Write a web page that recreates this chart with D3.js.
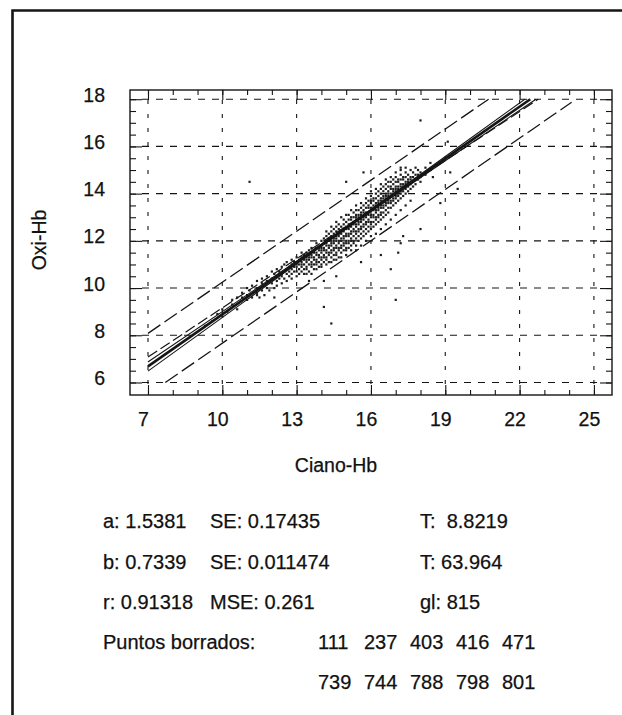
<!DOCTYPE html>
<html><head><meta charset="utf-8">
<script src="https://cdn.jsdelivr.net/npm/d3@7"></script>
<style>
body{margin:0;background:#fff}
svg{display:block}
text{font-family:"Liberation Sans",Arial,Helvetica,sans-serif;fill:#111;stroke:#111;stroke-width:0.25px}
</style>
</head><body>
<svg id="c" width="622" height="715"></svg>
<script>
// ---------- DATA ----------
const xTicks = [7,10,13,16,19,22,25];
const yTicks = [6,8,10,12,14,16,18];
const xTitle = "Ciano-Hb";
const yTitle = "Oxi-Hb";

// regression y = a + b x and bands (end points)
const regLine    = [[7,6.68],[22.43,18.0]];
const confUpper  = [[7,6.87],[11,9.71],[15.1,12.66],[19,15.57],[22.21,18.0]];
const confLower  = [[7,6.48],[11,9.51],[15.1,12.59],[19,15.39],[22.66,18.0]];
const innerDash  = [[7,7.08],[22.75,18.0]];
const predUpper  = [[7,8.08],[20.75,18.0]];
const predLower  = [[7.7,6.0],[24.1,17.87]];

// scatter: columns of Ciano-Hb value with Oxi-Hb values (tenths)
const scatterCols = [
 [9.3,[84]],[9.6,[86]],[9.8,[89]],[10.0,[88,91]],[10.2,[90]],[10.4,[93,95]],
 [10.6,[91,96]],[10.8,[96,98]],[11.0,[95,97,100]],[11.1,[99]],[11.2,[96,101]],
 [11.4,[98,100,103]],[11.5,[96]],[11.6,[99,102,104]],[11.7,[97]],[11.8,[100,103,105]],
 [11.9,[99]],[12.0,[102,104,107]],[12.1,[100,106]],[12.2,[101,103,105,108]],
 [12.3,[104,107]],[12.4,[102,105,106,109]],[12.5,[104,107,110]],[12.6,[103,106,108,111]],
 [12.7,[105,107,109]],[12.8,[104,106,108,110,112]],[12.9,[107,109,111]],
 [13.0,[105,107,109,110,111,113]],[13.1,[106,108,110,112]],[13.2,[107,109,110,111,113,115]],
 [13.3,[106,108,110,112,114]],[13.4,[108,109,111,112,113,115]],[13.5,[107,110,112,113,114,116]],
 [13.6,[106,109,110,111,113,114,115,117]],[13.7,[108,110,112,113,115,116]],
 [13.8,[108,110,111,112,114,115,117,119]],[13.9,[109,111,113,114,116,117]],
 [14.0,[109,110,112,113,115,116,117,118,120]],[14.1,[111,113,114,116,117,119,121]],
 [14.2,[110,112,113,115,116,118,119,120,122,124]],[14.3,[111,114,115,117,118,120,121,123]],
 [14.4,[111,113,115,116,118,119,120,122,124,126]],[14.5,[112,114,116,117,119,120,121,123,125]],
 [14.6,[112,114,115,117,118,120,121,122,124,126,128]],[14.7,[113,116,117,119,120,122,123,125,127]],
 [14.8,[113,115,117,118,120,121,123,124,126,130]],[14.9,[116,118,119,121,122,124,125,127,129]],
 [15.0,[114,116,117,119,120,122,123,125,126,128,131]],[15.1,[117,119,120,122,123,125,126,127,129,131]],
 [15.2,[116,118,120,121,123,124,126,127,129,130,133]],[15.3,[119,120,122,124,125,127,128,130,132]],
 [15.4,[116,118,121,123,124,126,127,129,130,131,133,135]],[15.5,[120,122,124,125,127,128,130,131,133]],
 [15.6,[118,121,123,125,126,128,129,131,132,134,136]],[15.7,[122,124,126,127,129,130,132,133,135]],
 [15.8,[120,123,125,127,128,130,131,132,134,136,138]],[15.9,[124,126,128,129,131,132,134,135,137]],
 [16.0,[122,125,127,128,130,131,133,134,136,137,139,141]],[16.1,[126,128,130,131,133,134,135,137,138]],
 [16.2,[123,127,129,130,132,133,135,136,138,140,142]],[16.3,[128,130,131,133,134,136,137,139,141]],
 [16.4,[125,129,131,132,134,135,137,138,140,142,144]],[16.5,[130,132,134,135,137,138,139,141,143]],
 [16.6,[127,131,133,135,136,138,139,140,142,144,146]],[16.7,[132,134,136,137,139,140,141,143,145]],
 [16.8,[129,134,136,137,139,140,142,143,145,147]],[16.9,[135,137,138,140,141,142,144,146]],
 [17.0,[131,136,138,139,141,142,143,145,147,149]],[17.1,[137,139,140,142,143,145,146]],
 [17.2,[133,138,140,141,143,144,146,148,150]],[17.3,[139,141,143,144,146,147]],
 [17.4,[135,140,142,144,145,147,149,151]],[17.5,[141,143,145,146,148]],[17.6,[137,142,144,146,147,150]],
 [17.7,[143,145,147,149]],[17.8,[144,146,148,151]],[17.9,[146,148,150]],[18.0,[145,147,149]],
 [18.2,[148,151]],[18.4,[150,153]],[18.6,[152]]
];
const outliers = [
 [11.1,14.5],[15.7,14.9],[18.0,17.1],[19.1,16.2],[19.5,14.2],[17.2,11.9],[16.8,10.8],
 [14.6,10.5],[14.1,9.2],[14.4,8.5],[17.0,9.5],[13.4,10.6],[13.5,10.3],[14.1,10.3],
 [17.3,12.2],[18.0,12.5],[18.8,13.6],[18.5,14.7],[17.2,15.1],[16.4,11.4],[15.6,11.1],
 [15.0,14.5],[12.1,9.6],[11.4,9.7],[17.1,11.5],[19.2,14.9]
];

// statistics text
const statRows = [
 ["a: 1.5381","SE: 0.17435","T:  8.8219"],
 ["b: 0.7339","SE: 0.011474","T: 63.964"],
 ["r: 0.91318","MSE: 0.261","gl: 815"]
];
const deletedLabel = "Puntos borrados:";
const deletedPoints = [[111,237,403,416,471],[739,744,788,798,801]];

// ---------- DRAW ----------
const svg = d3.select("#c");
const X0=130, X1=612, Y0=90, Y1=395;
const x = d3.scaleLinear().domain([6.274,25.73]).range([X0,X1]);
const y = d3.scaleLinear().domain([5.47,18.39]).range([Y1,Y0]);
const ink = "#151515";
const FONT = '"Liberation Sans",Arial,sans-serif';

// outer frame (left + top)
svg.append("path").attr("d","M12.5,715 V10.5 H622")
  .attr("fill","none").attr("stroke",ink).attr("stroke-width",2.6);

// grid
svg.append("g").selectAll("line").data(xTicks).join("line")
  .attr("x1",d=>x(d)).attr("x2",d=>x(d)).attr("y1",Y0+10).attr("y2",Y1-10)
  .attr("stroke",ink).attr("stroke-width",1.1).attr("stroke-dasharray","4,10");
svg.append("g").selectAll("line").data(yTicks).join("line")
  .attr("y1",d=>y(d)).attr("y2",d=>y(d)).attr("x1",X0+12).attr("x2",X1-12)
  .attr("stroke",ink).attr("stroke-width",1.1).attr("stroke-dasharray","7,7");

// ticks on all sides (inward), via d3 axes
const xMinor = d3.range(7,25.01,1);
const yMinor = d3.range(6,18.01,0.5);
function tickAxis(gen, tx, ty, vals, size){
  const g = svg.append("g").attr("transform",`translate(${tx},${ty})`)
    .call(gen.tickValues(vals).tickSize(size).tickFormat(""));
  g.select(".domain").remove();
  g.selectAll("line").attr("stroke",ink).attr("stroke-width",1.1);
}
tickAxis(d3.axisBottom(x),0,Y1,xMinor,-5);
tickAxis(d3.axisBottom(x),0,Y1,xTicks,-10);
tickAxis(d3.axisTop(x),0,Y0,xMinor,-5);
tickAxis(d3.axisTop(x),0,Y0,xTicks,-10);
tickAxis(d3.axisLeft(y),X0,0,yMinor,-6);
tickAxis(d3.axisLeft(y),X0,0,yTicks,-12);
tickAxis(d3.axisRight(y),X1,0,yMinor,-6);
tickAxis(d3.axisRight(y),X1,0,yTicks,-12);

// plot box
svg.append("rect").attr("x",X0).attr("y",Y0).attr("width",X1-X0).attr("height",Y1-Y0)
  .attr("fill","none").attr("stroke",ink).attr("stroke-width",1.4);

// tick labels
const xl = svg.append("g").attr("transform",`translate(0,${Y1+17})`)
  .call(d3.axisBottom(x).tickValues(xTicks).tickSize(0).tickPadding(0).tickFormat(d3.format("d")));
xl.select(".domain").remove();
xl.selectAll("text").attr("font-size",19.5).attr("dx",-5).attr("fill",ink).style("font-family",FONT);
const yl = svg.append("g").attr("transform",`translate(${X0-25},0)`)
  .call(d3.axisLeft(y).tickValues(yTicks).tickSize(0).tickPadding(0).tickFormat(d3.format("d")));
yl.select(".domain").remove();
yl.selectAll("text").attr("font-size",19.5).attr("dy","0.1em").attr("fill",ink).style("font-family",FONT);

// axis titles
svg.append("text").attr("x",336).attr("y",472).attr("text-anchor","middle")
  .attr("font-size",19.5).text(xTitle);
svg.append("text").attr("transform","translate(46,240) rotate(-90)").attr("text-anchor","middle")
  .attr("font-size",19.5).text(yTitle);

// scatter points
const pts = [];
scatterCols.forEach(([cx,ys])=>ys.forEach(v=>pts.push([cx,v/10])));
outliers.forEach(p=>pts.push(p));
svg.append("g").selectAll("rect").data(pts).join("rect")
  .attr("x",d=>x(d[0])-1.1).attr("y",d=>y(d[1])-1.1).attr("width",2.2).attr("height",2.2)
  .attr("fill","#1e1e1e");

// lines
const line = d3.line().x(d=>x(d[0])).y(d=>y(d[1]));
const cline = d3.line().x(d=>x(d[0])).y(d=>y(d[1])).curve(d3.curveMonotoneX);
function draw(data, gen, w, dash){
  svg.append("path").datum(data).attr("d",gen).attr("fill","none")
    .attr("stroke",ink).attr("stroke-width",w).attr("stroke-dasharray",dash||null);
}
draw(predUpper,line,1.3,"15,5");
draw(predLower,line,1.3,"15,5");
draw(innerDash,line,1.2,"11,4");
draw(confUpper,cline,1.1);
draw(confLower,cline,1.1);
draw(regLine,line,2.6);

// statistics
const colX = [103,210,420];
const rowY = [528,569,609];
statRows.forEach((r,i)=>r.forEach((t,j)=>{
  svg.append("text").attr("x",colX[j]).attr("y",rowY[i]).attr("font-size",20)
    .style("white-space","pre").text(t);
}));
svg.append("text").attr("x",103).attr("y",649).attr("font-size",20).text(deletedLabel);
deletedPoints.forEach((row,i)=>row.forEach((v,j)=>{
  svg.append("text").attr("x",318+j*46).attr("y",649+i*40).attr("font-size",20).text(v);
}));
</script>
</body></html>
